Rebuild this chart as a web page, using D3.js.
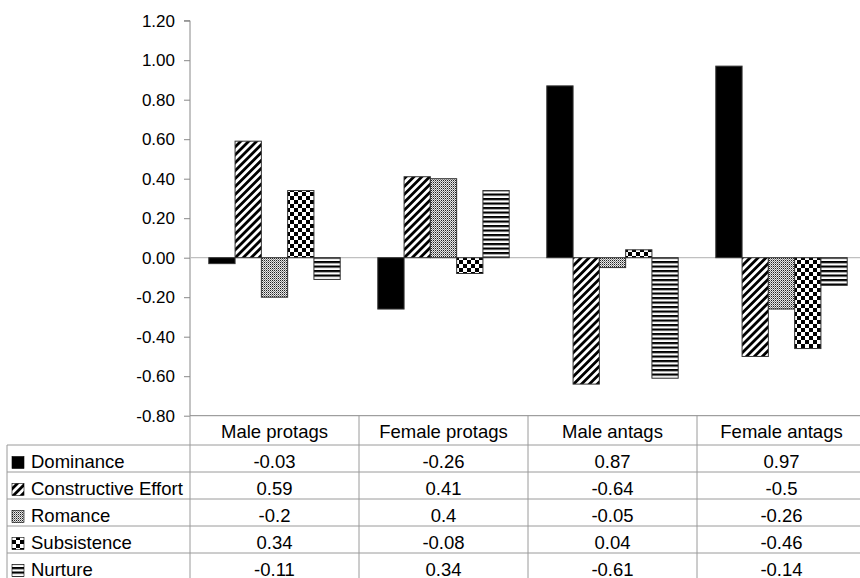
<!DOCTYPE html>
<html>
<head>
<meta charset="utf-8">
<script src="https://cdn.jsdelivr.net/npm/d3@7"></script>
<style>
  html, body { margin: 0; padding: 0; background: #fff; }
  svg { display: block; }
  text { font-family: "Liberation Sans", Arial, sans-serif; fill: #000; }
</style>
</head>
<body>
<svg id="chart" width="860" height="578"></svg>
<script>
// ---- data ----
const categories = ["Male protags", "Female protags", "Male antags", "Female antags"];
const seriesNames = ["Dominance", "Constructive Effort", "Romance", "Subsistence", "Nurture"];
const dominance = [-0.03, -0.26, 0.87, 0.97];
const constructiveEffort = [0.59, 0.41, -0.64, -0.5];
const romance = [-0.2, 0.4, -0.05, -0.26];
const subsistence = [0.34, -0.08, 0.04, -0.46];
const nurture = [-0.11, 0.34, -0.61, -0.14];
const yTicks = [-0.8, -0.6, -0.4, -0.2, 0, 0.2, 0.4, 0.6, 0.8, 1.0, 1.2];

const seriesValues = [dominance, constructiveEffort, romance, subsistence, nurture];
const patternIds = ["p-solid", "p-diag", "p-dots", "p-check", "p-hstripe"];

const svg = d3.select("#chart");
const defs = svg.append("defs");

// diagonal stripes
const pd = defs.append("pattern").attr("id", "p-diag").attr("patternUnits", "userSpaceOnUse")
  .attr("width", 5.6).attr("height", 10).attr("patternTransform", "rotate(45)");
pd.append("rect").attr("width", 5.6).attr("height", 10).attr("fill", "#fff");
pd.append("rect").attr("width", 2.8).attr("height", 10).attr("fill", "#000");

// fine dots
const pdots = defs.append("pattern").attr("id", "p-dots").attr("patternUnits", "userSpaceOnUse")
  .attr("width", 2).attr("height", 2);
pdots.append("rect").attr("width", 2).attr("height", 2).attr("fill", "#e8e8e8");
pdots.append("rect").attr("width", 1).attr("height", 1).attr("fill", "#222");
pdots.append("rect").attr("x", 1).attr("y", 1).attr("width", 1).attr("height", 1).attr("fill", "#888");

// checkerboard
const pc = defs.append("pattern").attr("id", "p-check").attr("patternUnits", "userSpaceOnUse")
  .attr("width", 8).attr("height", 8);
pc.append("rect").attr("width", 8).attr("height", 8).attr("fill", "#fff");
pc.append("rect").attr("width", 4).attr("height", 4).attr("fill", "#000");
pc.append("rect").attr("x", 4).attr("y", 4).attr("width", 4).attr("height", 4).attr("fill", "#000");

// horizontal stripes
const ph = defs.append("pattern").attr("id", "p-hstripe").attr("patternUnits", "userSpaceOnUse")
  .attr("width", 4).attr("height", 4.5);
ph.append("rect").attr("width", 4).attr("height", 4.5).attr("fill", "#fff");
ph.append("rect").attr("width", 4).attr("height", 2.2).attr("fill", "#000");

const fillFor = i => i === 0 ? "#000" : `url(#${patternIds[i]})`;

// ---- scales ----
const plotLeft = 190, plotRight = 866;
const y = d3.scaleLinear().domain([-0.8, 1.2]).range([415.7, 20.7]);
const x0 = d3.scaleBand().domain(categories).range([plotLeft, plotRight]).paddingInner(0).paddingOuter(0);
const x1 = d3.scaleBand().domain(seriesNames).range([0, x0.bandwidth()]).paddingInner(0).paddingOuter(0.715);

// ---- y axis ----
const yAxis = d3.axisLeft(y).tickValues(yTicks).tickSize(6).tickPadding(9)
  .tickFormat(d => d.toFixed(2));
const gy = svg.append("g").attr("transform", `translate(${plotLeft},0)`).call(yAxis);
gy.select(".domain").attr("stroke", "#888").attr("d", `M-6,${y(1.2)}H0V${y(-0.8)}`);
gy.selectAll(".tick line").attr("stroke", "#888");
gy.selectAll(".tick text").attr("font-size", 17).attr("font-family", "Liberation Sans, Arial, sans-serif").attr("fill", "#000");

// zero line
svg.append("line").attr("x1", plotLeft).attr("x2", plotRight)
  .attr("y1", y(0)).attr("y2", y(0)).attr("stroke", "#c0c0c0").attr("stroke-width", 1.2);

// ---- bars ----
const groups = svg.append("g").selectAll("g").data(categories).join("g")
  .attr("transform", d => `translate(${x0(d)},0)`);
groups.selectAll("rect")
  .data((c, ci) => seriesNames.map((s, si) => ({ s, si, v: seriesValues[si][ci] })))
  .join("rect")
  .attr("x", d => x1(d.s))
  .attr("width", x1.bandwidth())
  .attr("y", d => y(Math.max(0, d.v)))
  .attr("height", d => Math.abs(y(d.v) - y(0)))
  .attr("fill", d => fillFor(d.si))
  .attr("stroke", "#333")
  .attr("stroke-width", 1);

// ---- data table ----
const tableLeft = 7;
const headerTop = y(-0.8);
const headerBottom = 445;
const rowH = 27;
const lineColor = "#9a9a9a";
const tbl = svg.append("g");

// horizontal lines
tbl.append("line").attr("x1", plotLeft).attr("x2", plotRight).attr("y1", headerTop).attr("y2", headerTop)
  .attr("stroke", "#888");
for (let r = 0; r <= seriesNames.length; r++) {
  const yy = headerBottom + r * rowH;
  tbl.append("line").attr("x1", tableLeft).attr("x2", plotRight).attr("y1", yy).attr("y2", yy)
    .attr("stroke", lineColor);
}
// vertical lines
tbl.append("line").attr("x1", tableLeft).attr("x2", tableLeft)
  .attr("y1", headerBottom).attr("y2", headerBottom + rowH * seriesNames.length).attr("stroke", lineColor);
categories.forEach(c => {
  tbl.append("line").attr("x1", x0(c)).attr("x2", x0(c))
    .attr("y1", headerTop).attr("y2", headerBottom + rowH * seriesNames.length).attr("stroke", lineColor);
});

// header labels
tbl.selectAll("text.hdr").data(categories).join("text").attr("class", "hdr")
  .attr("x", d => x0(d) + x0.bandwidth() / 2)
  .attr("y", 437.5)
  .attr("text-anchor", "middle").attr("font-size", 18.5)
  .text(d => d);

// rows
seriesNames.forEach((s, si) => {
  const top = headerBottom + si * rowH;
  const base = top + 22.5;
  tbl.append("rect").attr("x", 12).attr("y", top + 11.5).attr("width", 12).attr("height", 12)
    .attr("fill", fillFor(si)).attr("stroke", "#000").attr("stroke-width", 0.6);
  tbl.append("text").attr("x", 31).attr("y", base).attr("font-size", 18.5).text(s);
  categories.forEach((c, ci) => {
    tbl.append("text").attr("x", x0(c) + x0.bandwidth() / 2).attr("y", base)
      .attr("text-anchor", "middle").attr("font-size", 18.5)
      .text(String(seriesValues[si][ci]));
  });
});
</script>
</body>
</html>
